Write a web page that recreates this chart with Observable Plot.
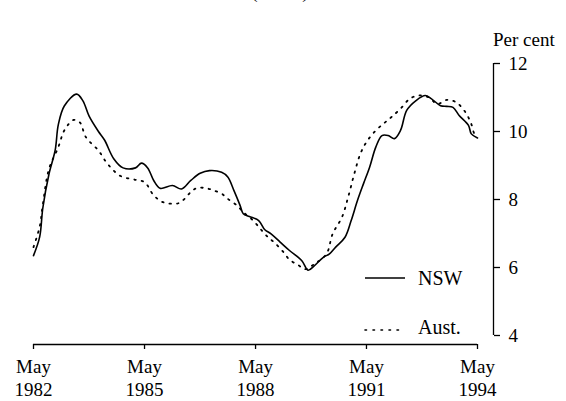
<!DOCTYPE html>
<html><head><meta charset="utf-8">
<script src="https://cdn.jsdelivr.net/npm/d3@7"></script>
<script src="https://cdn.jsdelivr.net/npm/@observablehq/plot@0.6"></script>
<style>
html,body{margin:0;padding:0;background:#fff;}
#wrap{position:relative;width:566px;height:401px;overflow:hidden;font-family:"Liberation Serif","Times New Roman",serif;color:#000;}
#chart{position:absolute;left:0;top:0;}
#title{position:absolute;left:0;width:560px;top:-18px;text-align:center;font-size:19px;line-height:19px;}
#unit{position:absolute;left:493px;top:30px;font-size:19px;line-height:19px;white-space:nowrap;}
.legtext{position:absolute;left:418px;font-size:20px;line-height:20px;white-space:nowrap;}
#legsvg{position:absolute;left:360px;top:270px;}
</style></head><body>
<div id="wrap">
<div id="title">(Trend)</div>
<div id="chart"></div>
<div id="unit">Per cent</div>
<svg id="legsvg" width="50" height="70">
  <line x1="5" x2="45" y1="8" y2="8" stroke="#000" stroke-width="1.6"></line>
  <line x1="5" x2="45" y1="60" y2="60" stroke="#000" stroke-width="1.6" stroke-dasharray="1.5,6.5" stroke-linecap="round"></line>
</svg>
<div class="legtext" id="legN" style="top:268px">NSW</div>
<div class="legtext" id="legA" style="top:317px">Aust.</div>
</div>
<script>
// Tick labels / axis values
const xTicks = ["1982-05", "1985-05", "1988-05", "1991-05", "1994-05"];
const yTicks = [4, 6, 8, 10, 12];

// NSW unemployment rate (trend), per cent
const nswDates = ["1982-05","1982-07","1982-08","1982-10","1982-12","1983-01","1983-03","1983-07","1983-09","1983-11",
  "1984-02","1984-04","1984-07","1984-10","1985-02","1985-04","1985-06","1985-08","1985-10","1986-02",
  "1986-05","1986-08","1986-11","1987-02","1987-06","1987-08","1987-10","1987-12","1988-01","1988-03",
  "1988-06","1988-08","1988-10","1989-01","1989-04","1989-08","1989-10","1989-12","1990-03","1990-05",
  "1990-07","1990-10","1990-12","1991-02","1991-04","1991-06","1991-08","1991-10","1991-12","1992-02",
  "1992-04","1992-06","1992-09","1992-12","1993-02","1993-05","1993-07","1993-09","1993-11","1994-02",
  "1994-03","1994-05"];
const nswValues = [6.35,6.9,7.75,8.75,9.45,10.2,10.75,11.1,10.9,10.45,
  10.0,9.75,9.2,8.93,8.93,9.07,8.93,8.55,8.33,8.41,
  8.31,8.56,8.77,8.85,8.8,8.66,8.26,7.82,7.58,7.5,
  7.38,7.11,6.99,6.74,6.5,6.2,5.92,6.05,6.3,6.4,
  6.6,6.89,7.38,7.97,8.46,8.95,9.54,9.88,9.88,9.79,
  10.03,10.62,10.91,11.06,10.96,10.76,10.74,10.71,10.47,10.18,
  9.93,9.81];

// Australia unemployment rate (trend), per cent
const austDates = ["1982-05","1982-07","1982-08","1982-10","1983-01","1983-03","1983-06","1983-08","1983-10","1984-02",
  "1984-05","1984-09","1985-02","1985-05","1985-08","1985-11","1986-04","1986-06","1986-08","1986-10",
  "1987-01","1987-03","1987-06","1987-08","1987-11","1988-01","1988-04","1988-07","1988-09","1988-11",
  "1989-02","1989-04","1989-07","1989-09","1989-12","1990-04","1990-06","1990-09","1990-11","1991-01",
  "1991-03","1991-05","1991-08","1991-11","1992-01","1992-04","1992-07","1992-10","1993-01","1993-04",
  "1993-07","1993-10","1994-01","1994-03","1994-04","1994-05"];
const austValues = [6.6,7.2,7.85,8.9,9.54,10.03,10.34,10.27,9.83,9.44,
  9.05,8.7,8.58,8.51,8.12,7.92,7.89,8.02,8.22,8.34,
  8.33,8.28,8.17,8.02,7.82,7.63,7.4,7.09,6.89,6.74,
  6.45,6.23,6.06,5.95,6.1,6.4,6.99,7.48,8.07,8.76,
  9.34,9.69,10.03,10.27,10.42,10.67,10.96,11.06,11.01,10.81,
  10.93,10.86,10.57,10.22,9.93,9.85];

const parse = d3.utcParse("%Y-%m");
const nsw = nswDates.map((d, i) => ({date: parse(d), value: nswValues[i]}));
const aust = austDates.map((d, i) => ({date: parse(d), value: austValues[i]}));
const xTickDates = xTicks.map(parse);
const x0 = xTickDates[0], x1 = xTickDates[xTickDates.length - 1];
const y0 = yTicks[0], y1 = yTicks[yTicks.length - 1];

const chart = Plot.plot({
  width: 566,
  height: 401,
  marginLeft: 33,
  marginRight: 73,
  marginTop: 63,
  marginBottom: 57,
  style: {fontFamily: "'Liberation Serif','Times New Roman',serif", fontSize: "19px", background: "transparent", color: "#000"},
  x: {type: "utc", domain: [x0, x1], insetRight: 16},
  y: {domain: [y0, y1], insetBottom: 9},
  marks: [
    Plot.ruleY([y0], {x1: x0, x2: x1, dy: 9, stroke: "#000", strokeWidth: 1.3}),
    Plot.ruleX([x1], {y1: y0, y2: y1, dx: 16, stroke: "#000", strokeWidth: 1.3}),
    Plot.axisX({ticks: xTickDates, tickFormat: d3.utcFormat("%b"), tickSize: 5, tickPadding: 10, label: null, fontSize: 19, strokeWidth: 1.3}),
    Plot.axisX({ticks: xTickDates, tickFormat: d3.utcFormat("%Y"), tickSize: 0, tickPadding: 38, label: null, fontSize: 19}),
    Plot.axisY({anchor: "right", ticks: yTicks, tickSize: 6, tickPadding: 9, label: null, fontSize: 19, strokeWidth: 1.3}),
    Plot.line(aust, {x: "date", y: "value", curve: "catmull-rom", stroke: "#000", strokeWidth: 1.8, strokeDasharray: "1.5,6", strokeLinecap: "round"}),
    Plot.line(nsw, {x: "date", y: "value", curve: "catmull-rom", stroke: "#000", strokeWidth: 1.6})
  ]
});
document.getElementById("chart").appendChild(chart);
</script>
</body></html>
